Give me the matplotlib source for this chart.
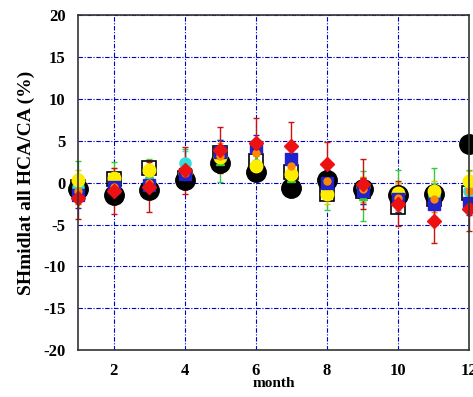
import matplotlib.pyplot as plt
import numpy as np

plt.rcParams['font.family'] = ['Liberation Serif', 'DejaVu Serif']
plt.rcParams['font.weight'] = 'bold'
plt.rcParams['axes.unicode_minus'] = False

months = np.arange(1, 13)

# series values (%)
green = [0.0, 0.2, 1.0, 2.0, 2.6, 2.6, 0.5, -1.0, -1.6, -1.0, -0.5, -0.5]
green_err = [2.6, 2.3, 1.8, 2.0, 2.5, 2.0, 2.0, 2.3, 3.0, 2.5, 2.2, 2.0]
cyan = [-0.5, -0.5, 0.0, 2.3, 3.0, 2.0, 1.0, 0.0, -1.0, -1.5, -1.5, -1.0]
cyan_err = [1.5, 1.5, 1.5, 1.5, 1.5, 1.5, 1.5, 1.5, 1.5, 1.5, 1.5, 1.5]
yellow = [0.3, 0.6, 1.5, 1.2, 3.0, 2.0, 1.0, -1.3, -0.5, -1.2, -1.0, 0.2]
yellow_err = [1.2, 1.2, 1.2, 1.2, 1.2, 1.2, 1.2, 1.2, 1.2, 1.2, 1.2, 1.2]
blue = [-1.5, -0.5, -0.3, 1.0, 3.6, 4.2, 2.8, 0.0, -1.0, -2.0, -2.6, -2.4]
blue_err = [1.5, 1.5, 1.5, 1.5, 1.5, 1.5, 1.5, 1.5, 1.5, 1.5, 1.5, 1.5]
orange = [-1.0, -0.5, 0.0, 1.2, 3.2, 3.5, 2.0, 0.2, -0.8, -1.8, -2.0, -1.0]
orange_err = [1.5, 1.5, 1.5, 1.5, 1.5, 1.5, 1.5, 1.5, 1.5, 1.5, 1.5, 1.5]
red = [-1.8, -1.0, -0.5, 1.5, 3.9, 4.7, 4.4, 2.2, -0.2, -2.5, -4.6, -3.2]
red_err = [2.6, 2.8, 3.0, 2.8, 2.7, 3.0, 2.8, 2.7, 3.0, 2.7, 2.6, 2.6]
square = [-0.5, 0.4, 1.8, 0.5, 3.5, 2.6, 1.3, -1.3, -1.0, -2.9, -2.0, -1.2]
black = [-0.8, -1.5, -0.9, 0.3, 2.3, 1.3, -0.6, 0.3, -0.8, -1.5, -1.3, 4.6]

fig = plt.figure(figsize=(4.73, 3.97), dpi=100)
ax = fig.add_axes([0.165, 0.118, 0.827, 0.844])


def series(y, err, fmt, col, ecol, ms):
    c = ax.errorbar(months, y, yerr=err, fmt=fmt, color=col, ms=ms,
                    ecolor=ecol, elinewidth=1, capsize=2.5)
    c[0].set_clip_on(False)
    for a in list(c[1]) + list(c[2]):
        a.set_clip_on(False)


series(green, green_err, '^', '#33cc33', '#33cc33', 6)
series(cyan, cyan_err, 'o', '#33dddd', '#33dddd', 8)
series(yellow, yellow_err, 'o', '#ffee00', '#ddcc00', 9)
series(blue, blue_err, 's', '#2222cc', '#2222cc', 8)
series(orange, orange_err, 'o', '#ff8800', '#ff8800', 5)
series(red, red_err, 'D', '#ee1111', '#cc1111', 7)
ax.plot(months, square, 's', ms=10, mfc='none', mec='black', mew=1.2, clip_on=False)
ax.plot(months, black, 'o', ms=14, color='black', clip_on=False)

ax.set_xlim(1, 12)
ax.set_ylim(-20, 20)
ax.set_xticks([2, 4, 6, 8, 10, 12])
ax.set_yticks(np.arange(-20, 21, 5))
ax.grid(True, color='#0000cc', linestyle=(0, (4, 1.5, 1, 1.5)), linewidth=0.8)
ax.set_axisbelow(True)
ax.tick_params(direction='in', length=0, labelsize=12, pad=9)
for s in ax.spines.values():
    s.set_linewidth(1.2)
    s.set_color('#333333')

ax.set_xlabel('month', fontsize=11, fontweight='bold', labelpad=-1)
ax.set_ylabel('SHmidlat all HCA/CA (%)', fontsize=14, fontweight='bold', labelpad=6)

fig.savefig('out.png', dpi=100)
